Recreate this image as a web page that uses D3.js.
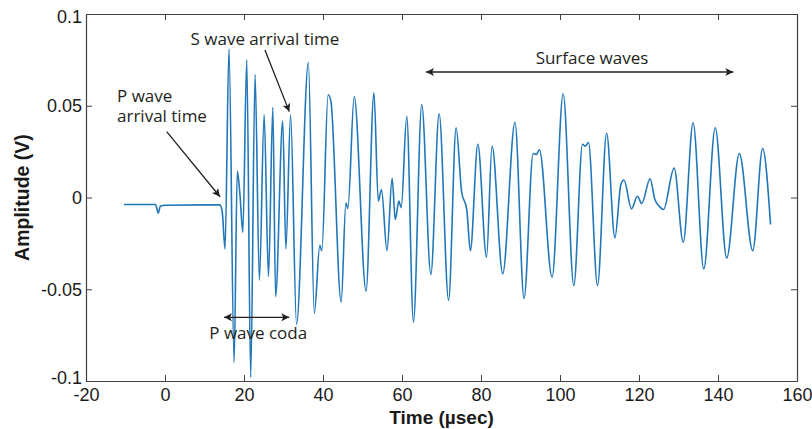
<!DOCTYPE html>
<html>
<head>
<meta charset="utf-8">
<script src="https://cdn.jsdelivr.net/npm/d3@7"></script>
<style>
  html, body { margin: 0; padding: 0; background: #fff; }
  svg { display: block; }
</style>
</head>
<body>
<div id="chart"></div>
<script>
// ---- data ----
const timeUs = [-10.4, -2.4, -1.7, -1.2, 0, 13.9, 14.5, 15.2, 16.2, 17.5, 18.3, 19.0, 19.7, 20.7, 21.7, 22.8, 23.9, 25.1, 26.2, 27.3, 28.0, 29.8, 30.6, 31.8, 33.3, 36.3, 37.8, 39.2, 39.7, 41.3, 42.0, 44.6, 45.8, 46.3, 47.9, 50.9, 52.9, 54.0, 54.8, 56.2, 57.5, 58.3, 59.2, 59.8, 61.2, 62.9, 65.0, 67.3, 69.4, 71.8, 73.7, 75.1, 76.4, 77.3, 79.2, 81.4, 82.8, 85.5, 88.6, 90.9, 93.2, 94.0, 94.8, 98.0, 100.8, 103.5, 105.7, 106.4, 107.2, 109.5, 111.8, 113.9, 115.4, 116.2, 118.1, 119.6, 120.7, 122.8, 124.0, 125.1, 126.2, 128.9, 131.2, 133.7, 136.4, 139.3, 142.2, 145.4, 148.8, 151.3, 153.3];
const amplitudeV = [-0.0038, -0.0038, -0.0085, -0.0048, -0.0042, -0.0040, -0.008, -0.028, 0.081, -0.090, 0.0144, 0.001, -0.019, 0.075, -0.098, 0.067, -0.045, 0.045, -0.043, 0.049, -0.054, 0.0416, -0.028, 0.045, -0.069, 0.0735, -0.063, -0.026, -0.029, 0.056, 0.0525, -0.057, -0.003, -0.006, 0.055, -0.051, 0.057, -0.002, 0.0044, -0.029, 0.0105, -0.012, -0.002, -0.0055, 0.0443, -0.068, 0.0507, -0.042, 0.0456, -0.056, 0.038, 0.003, -0.0065, -0.029, 0.029, -0.0325, 0.028, -0.0416, 0.041, -0.055, 0.024, 0.0235, 0.026, -0.0434, 0.0565, -0.048, 0.029, 0.028, 0.030, -0.048, 0.035, -0.022, 0.007, 0.0095, -0.0062, 0.0007, -0.0033, 0.0102, -0.001, -0.0047, -0.0065, 0.016, -0.0244, 0.0407, -0.039, 0.038, -0.033, 0.024, -0.029, 0.0267, -0.0147];

const xTicks = [-20, 0, 20, 40, 60, 80, 100, 120, 140, 160];
const yTicks = [-0.1, -0.05, 0, 0.05, 0.1];
const xTickLabels = ["-20", "0", "20", "40", "60", "80", "100", "120", "140", "160"];
const yTickLabels = ["-0.1", "-0.05", "0", "0.05", "0.1"];

const xTitle = "Time (µsec)";
const yTitle = "Amplitude (V)";

// annotation texts (lines) and anchors (in data units)
const noteLines  = [["S wave arrival time"], ["P wave", "arrival time"], ["Surface waves"], ["P wave coda"]];
const noteT      = [25.3, -12.15, 108.1, 23.6];
const noteA      = [0.0831, 0.0522, 0.0728, -0.0771];
const noteAnchor = ["middle", "start", "middle", "middle"];

// arrows
const arrowT1 = [25.3, 0.43, 66.08, 14.94];
const arrowA1 = [0.0804, 0.0359, 0.0684, -0.0653];
const arrowT2 = [31.47, 13.92, 143.87, 31.47];
const arrowA2 = [0.0468, 0.0004, 0.0684, -0.0653];
const arrowBoth = [false, false, true, true];

// ---- drawing ----
const W = 812, H = 429;
const margin = { left: 86, top: 14, right: 15, bottom: 48 };
const iw = W - margin.left - margin.right;
const ih = H - margin.top - margin.bottom;

const svg = d3.select("#chart").append("svg")
  .attr("width", W).attr("height", H);

const defs = svg.append("defs");
defs.append("marker")
  .attr("id", "head").attr("viewBox", "0 0 10 10")
  .attr("refX", 10).attr("refY", 5)
  .attr("markerWidth", 10).attr("markerHeight", 8)
  .attr("markerUnits", "userSpaceOnUse")
  .attr("orient", "auto-start-reverse")
  .append("path").attr("d", "M0,0 L10,5 L0,10 L2.5,5 Z").attr("fill", "#231f20");

const g = svg.append("g").attr("transform", `translate(${margin.left},${margin.top})`);

const x = d3.scaleLinear().domain([-20, 160]).range([0, iw]);
const y = d3.scaleLinear().domain([-0.1, 0.1]).range([ih, 0]);

const axisColor = "#404040";
const tickFont = "'Liberation Sans', Arial, sans-serif";

const xAxis = d3.axisBottom(x).tickValues(xTicks)
  .tickFormat((d, i) => xTickLabels[i]).tickSizeInner(-6).tickSizeOuter(0).tickPadding(7);
const gx = g.append("g").attr("transform", `translate(0,${ih})`).call(xAxis);
const yAxis = d3.axisLeft(y).tickValues(yTicks)
  .tickFormat((d, i) => yTickLabels[i]).tickSizeInner(-6).tickSizeOuter(0).tickPadding(4);
const gy = g.append("g").call(yAxis);
const gt = g.append("g").call(d3.axisTop(x).tickValues(xTicks).tickFormat("").tickSizeInner(-6).tickSizeOuter(0));
const gr = g.append("g").attr("transform", `translate(${iw},0)`)
  .call(d3.axisRight(y).tickValues(yTicks).tickFormat("").tickSizeInner(-6).tickSizeOuter(0));

[gx, gy, gt, gr].forEach(a => {
  a.select(".domain").attr("stroke", axisColor).attr("stroke-width", 1.2);
  a.selectAll(".tick line").attr("stroke", axisColor).attr("stroke-width", 1);
  a.selectAll(".tick text").attr("fill", "#1a1a1a")
    .style("font-family", tickFont).style("font-size", "18px");
});
// end labels of the y axis sit slightly inward, as in the reference
gy.selectAll(".tick text").attr("y", d => d === 0.1 ? 3 : (d === -0.1 ? -3 : 0));

// waveform
const pts = timeUs.map((t, i) => [t, amplitudeV[i]]);
const line = d3.line().x(d => x(d[0])).y(d => y(d[1])).curve(d3.curveMonotoneX);
g.append("path").datum(pts)
  .attr("d", line)
  .attr("fill", "none")
  .attr("stroke", "#2277b9")
  .attr("stroke-width", 1.6)
  .attr("stroke-linejoin", "round");

// axis titles
svg.append("text")
  .attr("x", margin.left + x(70)).attr("y", 424)
  .attr("text-anchor", "middle")
  .style("font-family", tickFont).style("font-weight", "bold").style("font-size", "19px")
  .attr("fill", "#1a1a1a")
  .text(xTitle);
svg.append("text")
  .attr("transform", `translate(29,${margin.top + y(0)}) rotate(-90)`)
  .attr("text-anchor", "middle")
  .style("font-family", tickFont).style("font-weight", "bold").style("font-size", "19.5px")
  .attr("fill", "#1a1a1a")
  .text(yTitle);

// annotations
const noteFont = "'Open Sans', 'Noto Sans', sans-serif";
noteLines.forEach((lines, i) => {
  const t = g.append("text")
    .attr("x", x(noteT[i])).attr("y", y(noteA[i]))
    .attr("text-anchor", noteAnchor[i])
    .style("font-family", noteFont).style("font-size", "17px")
    .attr("fill", "#231f20");
  lines.forEach((ln, j) => {
    t.append("tspan").attr("x", x(noteT[i])).attr("dy", j === 0 ? 0 : 20).text(ln);
  });
});
arrowT1.forEach((t1, i) => {
  const p = g.append("line")
    .attr("x1", x(t1)).attr("y1", y(arrowA1[i]))
    .attr("x2", x(arrowT2[i])).attr("y2", y(arrowA2[i]))
    .attr("stroke", "#231f20").attr("stroke-width", 1.3)
    .attr("marker-end", "url(#head)");
  if (arrowBoth[i]) p.attr("marker-start", "url(#head)");
});
</script>
</body>
</html>
